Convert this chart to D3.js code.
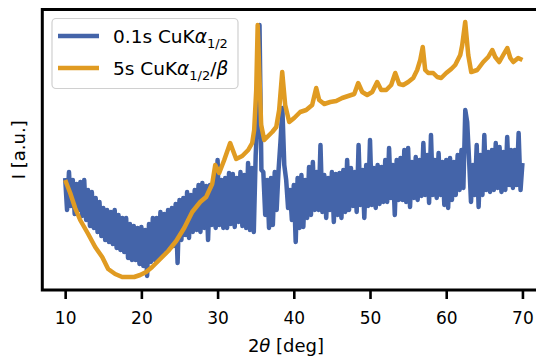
<!DOCTYPE html>
<html>
<head>
<meta charset="utf-8">
<script src="https://cdn.jsdelivr.net/npm/d3@7"></script>
<style>
  html, body { margin: 0; padding: 0; background: #fff; }
  svg { display: block; font-family: "DejaVu Sans", sans-serif; }
</style>
</head>
<body>
<svg id="chart" width="536" height="358"></svg>
<script>
// ---------- data ----------
const xTicks = [10, 20, 30, 40, 50, 60, 70];
const seriesNames = ["0.1s", "5s"];

// 0.1s CuK alpha1/2 : intensities from 2theta = 10 to 70 in steps of 0.25 deg
const blueStart = 10, blueStep = 0.25;
const blueI = [
  112,80,118,84,    110,76,106,80,   108,74,110,70,   100,64,98,62,
  92,58,88,54,      82,50,80,48,     78,46,80,42,     75,40,72,38,
  72,32,66,30,      64,30,62,26,     63,24,60,14,     66,28,72,30,
  72,32,78,36,      76,40,80,44,     82,44,86,27,     90,50,92,55,
  98,52,95,58,      100,60,105,58,   107,62,104,50,   105,65,108,62,
  130,65,110,62,    112,62,117,66,   116,63,112,68,   118,64,115,62,
  127,60,122,58,    135,175,265,120, 118,75,110,62,   112,65,118,80,
  120,148,182,125,  110,82,100,70,   105,48,112,62,   115,63,110,72,
  123,75,128,80,    118,80,145,78,   115,72,112,80,   118,68,116,75,
  117,72,120,78,    130,80,122,84,   118,78,145,85,   120,72,125,84,
  150,85,122,82,    125,86,123,88,   130,88,142,92,   125,75,130,90,
  132,90,140,88,    142,83,128,92,   133,90,130,94,   147,95,135,87,
  155,95,130,92,    137,95,128,85,   130,82,132,90,   128,95,135,100,
  140,102,180,168,  130,88,125,95,   145,83,135,95,   155,100,138,98,
  140,100,147,102,  143,98,138,100,  153,105,140,102, 140,105,157,100,
  127
];

// 5s CuK alpha1/2/beta
const orangeX = [
  10.0,10.66,11.31,11.97,13.02,13.94,14.86,15.64,16.56,17.48,18.27,19.06,19.84,20.63,
  21.42,22.47,23.52,24.57,25.62,26.67,27.72,28.50,29.29,29.69,30.21,30.87,31.65,32.44,
  33.23,34.02,34.54,34.80,35.07,35.26,35.46,35.72,36.12,36.64,37.17,37.70,38.08,38.48,
  38.87,39.40,40.05,40.84,41.63,42.41,42.94,43.33,43.99,44.78,45.56,46.35,47.14,47.93,
  48.45,48.98,49.63,50.29,50.94,51.47,52.13,52.78,53.31,53.83,54.36,55.01,55.67,56.19,
  56.59,56.92,57.24,57.64,58.29,58.82,59.34,60.00,60.66,61.18,61.84,62.10,62.49,62.89,
  63.28,64.07,64.86,65.51,66.04,66.43,66.96,67.48,68.01,68.41,68.80,69.44,70.0
];
const orangeI = [
  110,97,82,70,56,43,33,21,16,13,13,13,15,18,
  23,31,39,49,62,78,88,93,106,125,117,130,147,131,
  134,140,147,160,200,265,220,165,150,154,158,163,180,218,
  185,168,172,178,180,185,202,190,186,188,189,192,194,196,
  207,198,195,198,208,200,200,205,217,206,205,208,212,220,
  230,243,220,217,217,213,212,217,221,225,235,245,268,235,
  218,220,228,233,240,233,228,235,242,232,228,232,230
];

// ---------- chart ----------
const svg = d3.select("#chart");
const blueColor = "#4464a9", orangeColor = "#e09b22";

const x = d3.scaleLinear().domain([7, 73]).range([42.3, 545.3]);
const y = d3.scaleLinear().domain([0, 280.5]).range([290, 9.5]);

const blueData = blueI.map((v, i) => [blueStart + i * blueStep, v]);
const orangeData = orangeX.map((v, i) => [v, orangeI[i]]);

const line = d3.line().x(d => x(d[0])).y(d => y(d[1]));

svg.append("path").datum(blueData)
  .attr("d", line).attr("fill", "none")
  .attr("stroke", blueColor).attr("stroke-width", 4.5)
  .attr("stroke-linejoin", "round");
svg.append("path").datum(orangeData)
  .attr("d", line).attr("fill", "none")
  .attr("stroke", orangeColor).attr("stroke-width", 4.5)
  .attr("stroke-linejoin", "round");

// frame (right spine lies outside the picture)
svg.append("rect")
  .attr("x", x(7)).attr("y", y(280.5))
  .attr("width", x(73) - x(7)).attr("height", y(0) - y(280.5))
  .attr("fill", "none").attr("stroke", "#000").attr("stroke-width", 3);

// x axis
const xAxis = d3.axisBottom(x).tickValues(xTicks).tickSize(9).tickPadding(13)
  .tickFormat(d3.format("d"));
const gx = svg.append("g").attr("transform", `translate(0,${y(0)})`).call(xAxis);
gx.select(".domain").remove();
gx.selectAll(".tick line").attr("stroke", "#000").attr("stroke-width", 2.6);
gx.selectAll(".tick text").attr("fill", "#000")
  .style("font-size", "17px").style("font-family", "DejaVu Sans");

// axis labels
const xl = svg.append("text").attr("x", 286).attr("y", 352)
  .attr("text-anchor", "middle").style("font-size", "18px").attr("fill", "#000");
xl.append("tspan").text("2");
xl.append("tspan").attr("font-style", "italic").text("θ");
xl.append("tspan").text(" [deg]");

svg.append("text")
  .attr("transform", `translate(25,${(y(0) + y(280.5)) / 2}) rotate(-90)`)
  .attr("text-anchor", "middle").style("font-size", "18px").attr("fill", "#000")
  .text("I [a.u.]");

// legend
const lg = svg.append("g");
lg.append("rect").attr("x", 52).attr("y", 18.5).attr("width", 186).attr("height", 70)
  .attr("rx", 4).attr("fill", "#fff").attr("fill-opacity", 0.85)
  .attr("stroke", "#d0d0d0").attr("stroke-width", 1.2);
const items = [
  { name: seriesNames[0], color: blueColor, beta: false, y: 36 },
  { name: seriesNames[1], color: orangeColor, beta: true, y: 68 }
];
items.forEach(it => {
  lg.append("line").attr("x1", 58).attr("x2", 99).attr("y1", it.y).attr("y2", it.y)
    .attr("stroke", it.color).attr("stroke-width", 4.5);
  const t = lg.append("text").attr("x", 113).attr("y", it.y + 6.5)
    .style("font-size", "18.5px").attr("fill", "#000");
  t.append("tspan").text(it.name + " CuK");
  t.append("tspan").attr("font-style", "italic").text("α");
  t.append("tspan").attr("dy", 5).style("font-size", "13px").text("1/2");
  if (it.beta) {
    t.append("tspan").attr("dy", -5).text("/");
    t.append("tspan").attr("font-style", "italic").text("β");
  }
});
</script>
</body>
</html>
